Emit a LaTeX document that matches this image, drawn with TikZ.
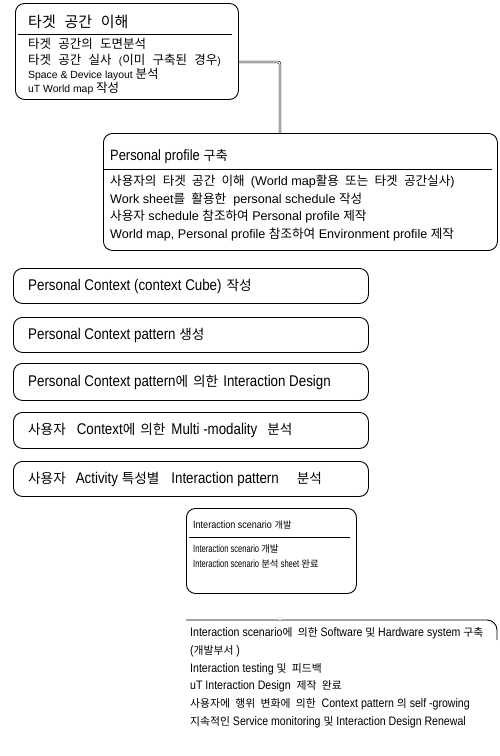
\documentclass[tikz,border=0pt]{standalone}
\usepackage{fontspec}
\setmainfont{Liberation Sans}
\newfontfamily\krA[Scale=1.2,WordSpace=2.6]{Noto Sans CJK KR}
\newfontfamily\krT[Scale=1.2,WordSpace=2.6]{Noto Sans CJK KR}
\newfontfamily\krB[Scale=1.0,WordSpace=2.2]{Noto Sans CJK KR}
\newfontfamily\krC[Scale=0.9,WordSpace=2.0]{Noto Sans CJK KR}
\newfontfamily\krn[Scale=0.88,WordSpace=2.4]{Noto Sans CJK KR}
\newfontfamily\krm[Scale=0.88,WordSpace=2.2]{Noto Sans CJK KR}
\newfontfamily\nar[FakeStretch=0.86]{Liberation Sans}
\newfontfamily\narr[FakeStretch=0.72]{Liberation Sans}
\newcommand\koA[1]{{\krA #1}}
\newcommand\koT[1]{{\krT #1}}
\newcommand\koB[1]{{\krB #1}}
\newcommand\koC[1]{{\krC #1}}
\newcommand\kn[1]{{\krn #1}}
\newcommand\km[1]{{\krm #1}}
\begin{document}
\begin{tikzpicture}[x=1pt,y=-1pt,
  box/.style={draw, line width=0.9pt, rounded corners=9pt, inner sep=0pt, anchor=north west},
  rule/.style={line width=0.9pt},
  pipe/.style={double=white, double distance=1.2pt, line width=0.6pt},
  txtA/.style={anchor=west, inner sep=0pt, font=\fontsize{10.4}{12}\selectfont},
  txtB/.style={anchor=west, inner sep=0pt, font=\fontsize{12.6}{14}\selectfont},
  txtC/.style={anchor=west, inner sep=0pt, font=\narr\fontsize{10.5}{12}\selectfont},
  titleA/.style={anchor=west, inner sep=0pt, font=\fontsize{12.5}{15}\selectfont},
  nartxt/.style={anchor=west, inner sep=0pt, font=\nar\fontsize{15.5}{17}\selectfont},
  nar2/.style={anchor=west, inner sep=0pt, font=\nar\fontsize{15}{17}\selectfont},
  nar8/.style={anchor=west, inner sep=0pt, font=\nar\fontsize{10.5}{13}\selectfont},
  nar9/.style={anchor=west, inner sep=0pt, font=\nar\fontsize{12.3}{15}\selectfont},
]
\useasboundingbox (0,0) rectangle (500,756);
\coordinate (sp) at (280,0);

% Box 1
\node[box, minimum width=223pt, minimum height=96pt] (b1) at (15,3) {};
\draw[rule] (18,34) -- (232,34);
\node[titleA] (t1) at (28,22) {\koT{타겟 공간 이해}};
\node[txtA] (t1a) at (28,44) {\koA{타겟 공간의 도면분석}};
\node[txtA] (t1b) at (28,60) {\koA{타겟 공간 실사 }(\koA{이미 구축된 경우})};
\node[txtA] (t1c) at (28,74) {Space \& Device layout \koA{분석}};
\node[txtA] (t1d) at (28,88) {uT World map \koA{작성}};

% Box 2
\node[box, minimum width=394pt, minimum height=117pt] (b2) at (103,133) {};
\draw[rule] (103,169) -- (492,169);
\node[nar2] (t2) at (110,157) {Personal profile \km{구축}};
\node[txtB] (t2a) at (110,182) {\koB{사용자의 타겟 공간 이해 }(World map\koB{활용 또는 타겟 공간실사})};
\node[txtB] (t2b) at (110,200) {Work sheet\koB{를 활용한}\ \ personal schedule \koB{작성}};
\node[txtB] (t2c) at (110,217) {\koB{사용자} schedule \koB{참조하여} Personal profile \koB{제작}};
\node[txtB] (t2d) at (110,235) {World map, Personal profile \koB{참조하여} Environment profile \koB{제작}};

% Single boxes
\node[box, minimum width=355pt, minimum height=35pt] (b3) at (13,268) {};
\node[nartxt] (t3) at (28,286) {Personal Context (context Cube)\hspace{5pt}\kn{작성}};
\node[box, minimum width=355pt, minimum height=35pt] (b4) at (13,317) {};
\node[nartxt] (t4) at (28,335) {Personal Context pattern \kn{생성}};
\node[box, minimum width=355pt, minimum height=37pt] (b5) at (13,363) {};
\node[nartxt] (t5) at (28,382) {Personal Context pattern\kn{에}\hspace{5pt}\kn{의한}\hspace{5pt}Interaction Design};
\node[box, minimum width=355pt, minimum height=36pt] (b6) at (13,412) {};
\node[nartxt] (t6) at (28,430) {\kn{사용자}\hspace{11pt}Context\kn{에}\hspace{5pt}\kn{의한}\hspace{6pt}Multi -modality\hspace{10pt}\kn{분석}};
\node[box, minimum width=355pt, minimum height=35pt] (b7) at (13,461) {};
\node[nartxt] (t7) at (28,479) {\kn{사용자}\hspace{10pt}Activity \kn{특성별}\hspace{12pt}Interaction pattern\hspace{18pt}\kn{분석}};

% Box 8
\node[box, minimum width=170pt, minimum height=85pt] (b8) at (186,508) {};
\draw[rule] (189,537) -- (350,537);
\node[nar8] (t8) at (193,525) {Interaction scenario \km{개발}};
\node[txtC] (t8a) at (193,549) {Interaction scenario \koC{개발}};
\node[txtC] (t8b) at (193,564) {Interaction scenario \koC{분석} sheet \koC{완료}};

% Box 9 (open)
\coordinate (b9l) at (186,620);
\coordinate (b9r) at (497,640);
\draw[line width=0.9pt, rounded corners=10pt] (b9l) -| (b9r);
\node[nar9] (t9a) at (190,633) {Interaction scenario\km{에 의한} Software \km{및} Hardware system \km{구축}};
\node[nar9] (t9b) at (190,651) {(\km{개발부서} )};
\node[nar9] (t9c) at (190,669) {Interaction testing \km{및 피드백}};
\node[nar9] (t9d) at (190,686) {uT Interaction Design\ \ \km{제작 완료}};
\node[nar9] (t9e) at (190,704) {\km{사용자에 행위 변화에 의한}\ \ Context pattern \km{의} self -growing};
\node[nar9] (t9f) at (190,722) {\km{지속적인} Service monitoring \km{및} Interaction Design Renewal};

% Connectors
\coordinate (c1) at (0,62);
\draw[pipe, rounded corners=2pt] (b1.east |- c1) -| (sp |- b2.north);
\draw[pipe] (sp |- b2.south) -- (sp |- b3.north);
\draw[pipe] (sp |- b3.south) -- (sp |- b4.north);
\draw[pipe] (sp |- b4.south) -- (sp |- b5.north);
\draw[pipe] (sp |- b5.south) -- (sp |- b6.north);
\draw[pipe] (sp |- b6.south) -- (sp |- b7.north);
\draw[pipe] (sp |- b7.south) -- (sp |- b8.north);
\draw[pipe] (sp |- b8.south) -- (sp |- b9l);
\end{tikzpicture}
\end{document}
